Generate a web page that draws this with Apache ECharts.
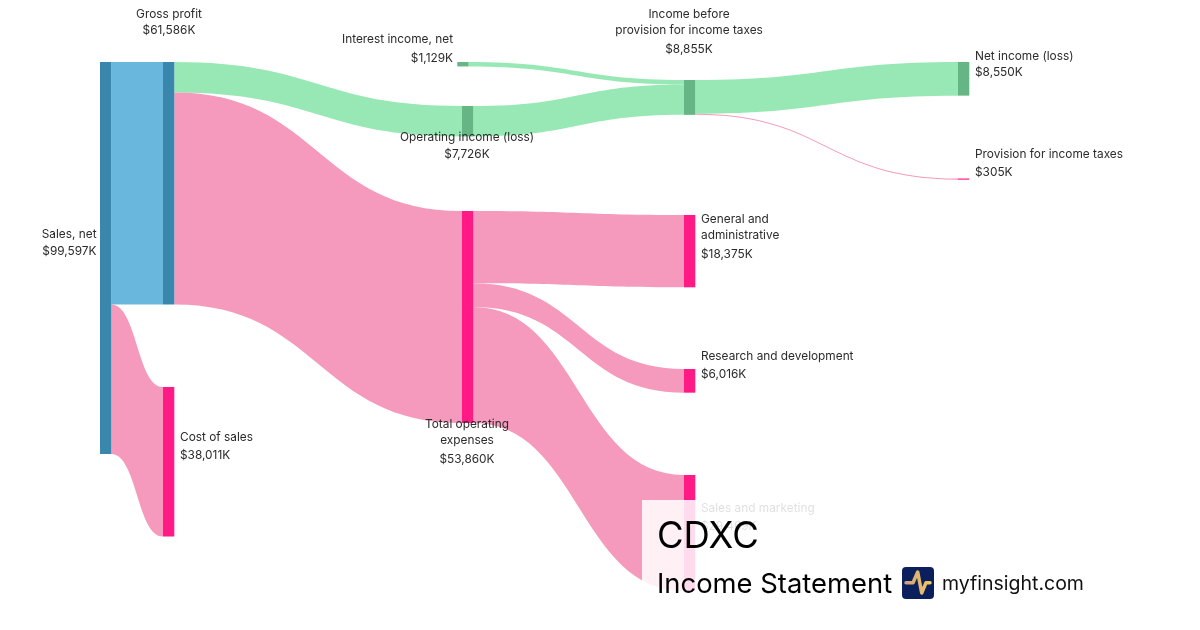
<!DOCTYPE html>
<html>
<head>
<meta charset="utf-8">
<style>
  html, body { margin: 0; padding: 0; background: #fff; }
  #chart { width: 1200px; height: 630px; }
</style>
<script src="https://cdn.jsdelivr.net/npm/echarts@6/dist/echarts.min.js"></script>
</head>
<body>
<div id="chart"></div>
<script>
// values in $K
var nodeNames = ['Sales, net', 'Gross profit', 'Cost of sales', 'Interest income, net', 'Operating income (loss)',
    'Total operating expenses', 'Income before provision for income taxes', 'General and administrative',
    'Research and development', 'Sales and marketing', 'Net income (loss)', 'Provision for income taxes'];
var nodeValues = [99597, 61586, 38011, 1129, 7726, 53860, 8855, 18375, 6016, 29469, 8550, 305];
var linkSources = ['Sales, net', 'Sales, net', 'Gross profit', 'Gross profit', 'Interest income, net', 'Operating income (loss)',
    'Total operating expenses', 'Total operating expenses', 'Total operating expenses',
    'Income before provision for income taxes', 'Income before provision for income taxes'];
var linkTargets = ['Gross profit', 'Cost of sales', 'Operating income (loss)', 'Total operating expenses',
    'Income before provision for income taxes', 'Income before provision for income taxes',
    'General and administrative', 'Research and development', 'Sales and marketing',
    'Net income (loss)', 'Provision for income taxes'];
var linkValues = [61586, 38011, 7726, 53860, 1129, 7726, 18375, 6016, 29469, 8550, 305];

// layout only: the reference has hand placed columns and gaps
var areaLeft = 100, areaTop = 62, areaWidth = 869, areaHeight = 400;
var palette = {
    blue: ['#3a87ad', '#6ab7dd'],
    green: ['#66b585', '#98e8b5'],
    pink: ['#ff1a85', '#f59abc']
};
var nodeKinds = ['blue', 'blue', 'pink', 'green', 'green', 'pink', 'green', 'pink', 'pink', 'pink', 'green', 'pink'];
var linkKinds = ['blue', 'pink', 'green', 'pink', 'green', 'green', 'pink', 'pink', 'pink', 'green', 'pink'];
var nodeDepths = [0, 1, 1, 2, 2, 2, 3, 3, 3, 3, 4, 4];
var nodeXs = [100, 163, 163, 457.3, 462, 462, 684, 684, 684, 684, 958, 958];
var nodeYs = [62, 62, 387, 62, 106, 211, 80, 215, 369, 475, 62, 178.5];
// label anchor: x, top y, align, gap key, wrapped name
var labelSpots = [
    [96.5, 226, 'right', 'v18', ['Sales, net']],
    [169, 6, 'center', 'v16', ['Gross profit']],
    [180, 429.5, 'left', 'v20', ['Cost of sales']],
    [453, 31, 'right', 'v22', ['Interest income, net']],
    [467, 129, 'center', 'v18', ['Operating income (loss)']],
    [467, 416, 'center', 'v22', ['Total operating', 'expenses']],
    [689, 6, 'center', 'v22', ['Income before', 'provision for income taxes']],
    [701, 211, 'left', 'v22', ['General and', 'administrative']],
    [701, 348, 'left', 'v20', ['Research and development']],
    [701, 500, 'left', 'v20', ['Sales and marketing']],
    [975, 48, 'left', 'v16', ['Net income (loss)']],
    [975, 146, 'left', 'v20', ['Provision for income taxes']]
];

function money(v) {
    return '$' + v.toLocaleString('en-US') + 'K';
}

var nodes = nodeNames.map(function (name, i) {
    var spot = labelSpots[i];
    var text = spot[4].map(function (line) {
        return '{n|' + line + '}';
    });
    text.push('{' + spot[3] + '|' + money(nodeValues[i]) + '}');
    return {
        name: name,
        value: nodeValues[i],
        depth: nodeDepths[i],
        localX: (nodeXs[i] - areaLeft) / areaWidth,
        localY: (nodeYs[i] - areaTop) / areaHeight,
        itemStyle: { color: palette[nodeKinds[i]][0], opacity: 1 },
        label: {
            position: [spot[0] - nodeXs[i], spot[1] - nodeYs[i]],
            align: spot[2],
            verticalAlign: 'top',
            formatter: text.join('\n')
        }
    };
});

var links = linkSources.map(function (source, i) {
    return {
        source: source,
        target: linkTargets[i],
        value: linkValues[i],
        lineStyle: { color: palette[linkKinds[i]][1], opacity: 1 }
    };
});

var textColor = '#2b2b2b';
var labelSize = 11.85;
var chart = echarts.init(document.getElementById('chart'), null, { renderer: 'canvas' });
chart.setOption({
    animation: false,
    backgroundColor: '#fff',
    textStyle: { fontFamily: 'Inter' },
    series: [{
        type: 'sankey',
        left: areaLeft,
        top: areaTop,
        width: areaWidth,
        height: areaHeight,
        nodeWidth: 11.3,
        nodeGap: 8,
        nodeAlign: 'left',
        layoutIterations: 0,
        draggable: false,
        silent: true,
        emphasis: { disabled: true },
        lineStyle: { curveness: 0.5 },
        label: {
            show: true,
            color: textColor,
            fontFamily: 'Inter',
            fontSize: labelSize,
            rich: {
                n: { fontFamily: 'Inter', fontSize: labelSize, lineHeight: 16, color: textColor },
                v16: { fontFamily: 'Inter', fontSize: labelSize, lineHeight: 16, color: textColor },
                v18: { fontFamily: 'Inter', fontSize: labelSize, lineHeight: 18, color: textColor },
                v20: { fontFamily: 'Inter', fontSize: labelSize, lineHeight: 20, color: textColor },
                v22: { fontFamily: 'Inter', fontSize: labelSize, lineHeight: 22, color: textColor }
            }
        },
        data: nodes,
        links: links
    }],
    graphic: {
        elements: [
            { type: 'rect', z: 100, shape: { x: 642, y: 500, width: 460, height: 130 }, style: { fill: 'rgba(255,255,255,0.85)' } },
            { type: 'text', z: 101, style: { x: 657, y: 537.5, text: 'CDXC', fill: '#000', font: '36.4px Inter', textVerticalAlign: 'middle' } },
            { type: 'text', z: 101, style: { x: 657, y: 585, text: 'Income Statement', fill: '#000', font: '27.4px Inter', textVerticalAlign: 'middle' } },
            { type: 'rect', z: 101, shape: { x: 902, y: 567, width: 32, height: 32, r: 4 }, style: { fill: '#0b1f5c' } },
            {
                type: 'polyline', z: 102,
                shape: { points: [[906, 582.7], [913, 582.7], [917.7, 572], [921.7, 593], [926, 582.7], [930, 582.7]] },
                style: {
                    fill: 'none', lineWidth: 3.5, lineJoin: 'round', lineCap: 'round',
                    stroke: new echarts.graphic.LinearGradient(0, 0, 1, 0, [
                        { offset: 0, color: '#cba07c' }, { offset: 1, color: '#f7cb5e' }
                    ])
                }
            },
            { type: 'text', z: 101, style: { x: 942, y: 584.5, text: 'myfinsight.com', fill: '#111', font: '19.5px Inter', textVerticalAlign: 'middle' } }
        ]
    }
});
</script>
</body>
</html>
